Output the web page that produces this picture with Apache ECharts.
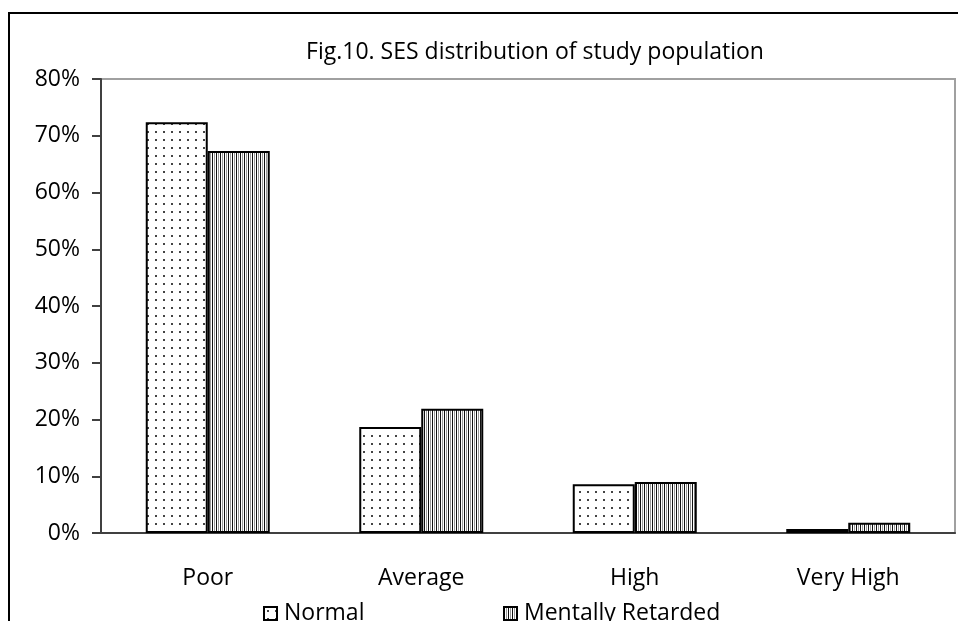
<!DOCTYPE html>
<html>
<head>
<meta charset="utf-8">
<script src="https://cdn.jsdelivr.net/npm/echarts@6/dist/echarts.min.js"></script>
<style>html,body{margin:0;padding:0;background:#fff}#c{width:958px;height:621px}</style>
</head>
<body>
<div id="c"></div>
<script>
var categories = ['Poor', 'Average', 'High', 'Very High'];
var normalValues = [72.4, 18.7, 8.6, 0.7];
var retardedValues = [67.3, 21.9, 9.0, 1.8];
var seriesNames = ['Normal', 'Mentally Retarded'];
var titleText = 'Fig.10. SES distribution of study population';

function dotPattern() {
  var c = document.createElement('canvas');
  c.width = 8; c.height = 8;
  var g = c.getContext('2d');
  g.fillStyle = '#fff'; g.fillRect(0, 0, 8, 8);
  g.fillStyle = '#444'; g.fillRect(3, 3, 2, 2);
  return c;
}
function stripePattern() {
  var c = document.createElement('canvas');
  c.width = 4; c.height = 4;
  var g = c.getContext('2d');
  var cols = ['#111', '#fff', '#999', '#fff'];
  for (var i = 0; i < 4; i++) { g.fillStyle = cols[i]; g.fillRect(i, 0, 1, 4); }
  return c;
}

var font = 'Open Sans';
var fs = 23;
var chart = echarts.init(document.getElementById('c'), null, {renderer: 'canvas'});
var legendText = {fontFamily: font, fontSize: fs, color: '#000', padding: [0, 0, 0, 2]};
chart.setOption({
  animation: false,
  backgroundColor: '#fff',
  title: {
    text: titleText, left: 530, top: 36, textAlign: 'center',
    textStyle: {fontFamily: font, fontSize: fs, fontWeight: 'normal', color: '#000'}
  },
  legend: [
    {left: 258, top: 597, icon: 'rect', itemWidth: 13, itemHeight: 13, textStyle: legendText, data: [seriesNames[0]]},
    {left: 498, top: 597, icon: 'rect', itemWidth: 13, itemHeight: 13, textStyle: legendText, data: [seriesNames[1]]}
  ],
  grid: {left: 101, right: 3, top: 79, bottom: 88, show: true, borderColor: '#a0a0a0', borderWidth: 2},
  xAxis: {
    type: 'category', data: categories,
    axisLine: {lineStyle: {color: '#404040', width: 2}},
    axisTick: {length: 8, lineStyle: {color: '#404040', width: 2}},
    axisLabel: {fontFamily: font, fontSize: fs, color: '#000', margin: 34}
  },
  yAxis: {
    type: 'value', min: 0, max: 80, interval: 10,
    splitLine: {show: false},
    axisLine: {show: true, lineStyle: {color: '#404040', width: 2}},
    axisTick: {show: true, length: 9, lineStyle: {color: '#404040', width: 2}},
    axisLabel: {formatter: '{value}%', fontFamily: font, fontSize: fs, color: '#000', margin: 21}
  },
  series: [
    {
      name: seriesNames[0], type: 'bar', data: normalValues, barWidth: 62, barGap: '0%',
      itemStyle: {color: {image: dotPattern(), repeat: 'repeat'}, borderColor: '#000', borderWidth: 2}
    },
    {
      name: seriesNames[1], type: 'bar', data: retardedValues, barWidth: 62, barGap: '0%',
      itemStyle: {color: {image: stripePattern(), repeat: 'repeat'}, borderColor: '#000', borderWidth: 2}
    }
  ],
  graphic: [{
    type: 'rect', silent: true, z: -1,
    shape: {x: 9, y: 13, width: 980, height: 700},
    style: {fill: null, stroke: '#000', lineWidth: 2}
  }]
});
</script>
</body>
</html>
